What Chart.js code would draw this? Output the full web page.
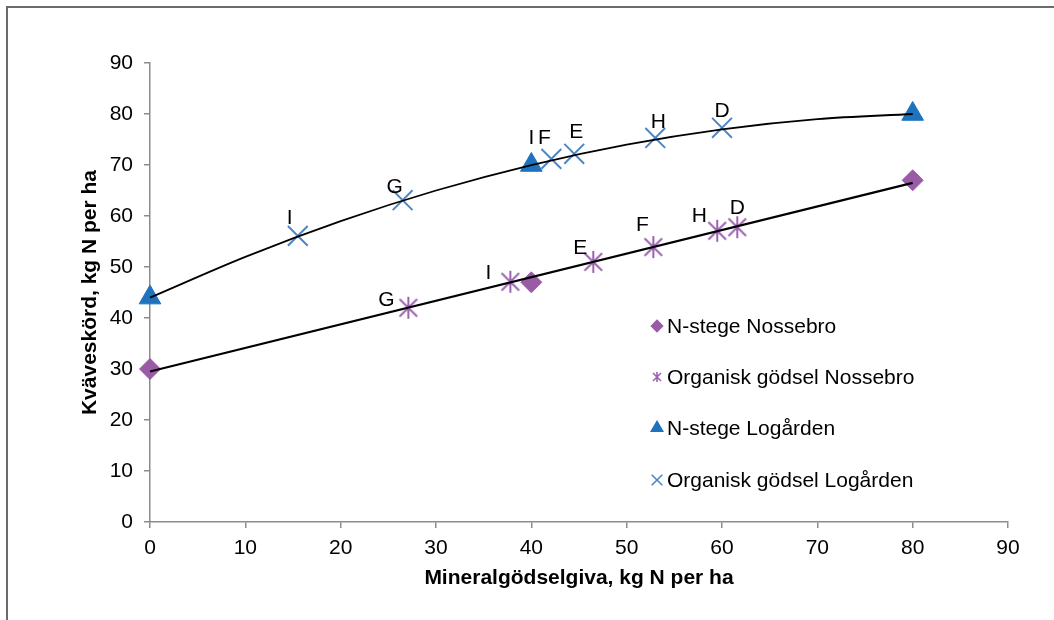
<!DOCTYPE html>
<html>
<head>
<meta charset="utf-8">
<script src="https://cdn.jsdelivr.net/npm/chart.js"></script>
<style>
  body { margin: 0; background: #fff; }
  #wrap { position: relative; width: 1054px; height: 620px; overflow: hidden; }
  #frame { position: absolute; left: 6px; top: 6px; width: 1200px; height: 800px;
           border-top: 2px solid #6b6b6b; border-left: 2px solid #6b6b6b; }
  canvas { position: absolute; left: 0; top: 0; }
</style>
</head>
<body>
<div id="wrap">
  <div id="frame"></div>
  <canvas id="kvave" width="1054" height="620"></canvas>
</div>
<script>
// N-stege (mineral fertiliser steps)
const nstegeX = [0, 40, 80];
const nossebroY = [30, 47, 67];
const logardenY = [44, 70, 80];
const logardenNstegeLabels = ['', 'I', ''];

// organic fertiliser, Nossebro
const orgNossebroX = [27.1, 37.8, 46.5, 52.8, 59.5, 61.6];
const orgNossebroY = [42.0, 47.1, 51.0, 53.9, 57.1, 57.8];
const orgNossebroLabels = ['G', 'I', 'E', 'F', 'H', 'D'];

// organic fertiliser, Logården
const orgLogardenX = [15.5, 26.5, 42.1, 44.5, 53.0, 60.0];
const orgLogardenY = [56.1, 63.1, 71.2, 72.2, 75.3, 77.3];
const orgLogardenLabels = ['I', 'G', 'F', 'E', 'H', 'D'];

// trend lines
const trendNossebroX = [0, 80];
const trendNossebroY = [29.5, 66.5];
const trendLogardenX = [0, 10, 20, 30, 40, 50, 60, 70, 80];
const trendLogardenY = [44, 52, 59, 65, 70, 74, 77, 79, 80];

const legendNames = ['N-stege Nossebro', 'Organisk gödsel Nossebro', 'N-stege Logården', 'Organisk gödsel Logården'];

// label offsets (px) relative to marker centre
const offNossebro = [[-22, -8], [-22, -9], [-13, -14], [-11, -22], [-18, -15], [0, -19]];
const offLogarden = [[-8, -18], [-8, -13], [-7, -21], [2, -22], [3, -16], [0, -17]];
const offLogNstege = [[0, 0], [0, -27], [0, 0]];

const FONT = '"Liberation Sans", Arial, sans-serif';
const PURPLE = '#9a5ba6';
const PURPLE2 = '#9d62b0';
const BLUE = '#1f72be';
const BLUE2 = '#4d86c6';

function pts(xs, ys) { return xs.map((x, i) => ({ x: x, y: ys[i] })); }

function asterisk(size, color, lw) {
  const c = document.createElement('canvas');
  c.width = c.height = size;
  const g = c.getContext('2d');
  const h = size / 2, r = h - 1, d = r * 0.8;
  g.strokeStyle = color; g.lineWidth = lw;
  g.beginPath();
  g.moveTo(h, h - r); g.lineTo(h, h + r);
  g.moveTo(h - d, h - d); g.lineTo(h + d, h + d);
  g.moveTo(h + d, h - d); g.lineTo(h - d, h + d);
  g.stroke();
  return c;
}
const starBig = asterisk(24, PURPLE2, 2);
const starSmall = asterisk(12, PURPLE2, 1.6);

const labelPlugin = {
  id: 'pointLabels',
  afterDatasetsDraw(chart) {
    const ctx = chart.ctx;
    ctx.save();
    ctx.font = '21px ' + FONT;
    ctx.fillStyle = '#000';
    ctx.textAlign = 'center';
    ctx.textBaseline = 'middle';
    chart.data.datasets.forEach((ds, i) => {
      if (!ds.pointLabels) return;
      const meta = chart.getDatasetMeta(i);
      ds.pointLabels.forEach((txt, j) => {
        if (!txt) return;
        const el = meta.data[j];
        const o = ds.labelOffsets[j];
        ctx.fillText(txt, el.x + o[0], el.y + o[1]);
      });
    });
    ctx.restore();
  }
};

const legendPlugin = {
  id: 'sideLegend',
  afterDraw(chart) {
    const ctx = chart.ctx;
    const rows = [326, 377, 428, 480];
    const marks = [
      { pointStyle: 'rectRot', radius: 5.5, color: PURPLE },
      { pointStyle: starSmall, radius: 6, color: PURPLE2 },
      { pointStyle: 'triangle', radius: 6.5, color: BLUE },
      { pointStyle: 'crossRot', radius: 7.5, color: BLUE2 }
    ];
    ctx.save();
    ctx.font = '21px ' + FONT;
    ctx.textAlign = 'left';
    ctx.textBaseline = 'middle';
    legendNames.forEach((name, i) => {
      const m = marks[i];
      ctx.fillStyle = m.color;
      ctx.strokeStyle = m.color;
      ctx.lineWidth = 1.6;
      Chart.helpers.drawPoint(ctx, { pointStyle: m.pointStyle, radius: m.radius, rotation: 0, borderWidth: 1.6 }, 657, rows[i]);
      ctx.fillStyle = '#000';
      ctx.fillText(name, 667, rows[i] + 1);
    });
    ctx.restore();
  }
};

new Chart(document.getElementById('kvave'), {
  type: 'scatter',
  data: {
    datasets: [
      {
        label: 'trend Nossebro', data: pts(trendNossebroX, trendNossebroY),
        showLine: true, borderColor: '#000', borderWidth: 2.2, pointRadius: 0, order: 0, clip: false
      },
      {
        label: 'trend Logården', data: pts(trendLogardenX, trendLogardenY),
        showLine: true, borderColor: '#000', borderWidth: 1.8, pointRadius: 0,
        cubicInterpolationMode: 'monotone', order: 0, clip: false
      },
      {
        label: legendNames[0], data: pts(nstegeX, nossebroY),
        pointStyle: 'rectRot', pointRadius: 10.5, backgroundColor: PURPLE, borderColor: PURPLE,
        borderWidth: 1, order: 4, clip: false
      },
      {
        label: legendNames[1], data: pts(orgNossebroX, orgNossebroY),
        pointStyle: starBig, pointRadius: 12, order: 3, clip: false,
        pointLabels: orgNossebroLabels, labelOffsets: offNossebro
      },
      {
        label: legendNames[2], data: pts(nstegeX, logardenY),
        pointStyle: 'triangle', pointRadius: 12.5, backgroundColor: BLUE, borderColor: BLUE,
        borderWidth: 1, order: 2, clip: false,
        pointLabels: logardenNstegeLabels, labelOffsets: offLogNstege
      },
      {
        label: legendNames[3], data: pts(orgLogardenX, orgLogardenY),
        pointStyle: 'crossRot', pointRadius: 14, borderColor: BLUE2, borderWidth: 2,
        order: 1, clip: false,
        pointLabels: orgLogardenLabels, labelOffsets: offLogarden
      }
    ]
  },
  options: {
    responsive: false,
    animation: false,
    layout: { padding: { top: 63, right: 46, left: 0, bottom: 0 } },
    plugins: { legend: { display: false }, tooltip: { enabled: false } },
    scales: {
      x: {
        type: 'linear', min: 0, max: 90,
        ticks: { stepSize: 10, color: '#000', padding: 8, font: { family: FONT, size: 21 } },
        grid: { display: true, drawOnChartArea: false, tickLength: 6, color: '#8c8c8c', lineWidth: 1.5 },
        border: { display: true, color: '#8c8c8c', width: 1.5 },
        title: { display: true, text: 'Mineralgödselgiva, kg N per ha', color: '#000',
                 font: { family: FONT, size: 21, weight: 'bold' }, padding: { top: 0, bottom: 29 } },
        afterFit(scale) { scale.height = 98; }
      },
      y: {
        type: 'linear', min: 0, max: 90,
        ticks: { stepSize: 10, color: '#000', padding: 11, font: { family: FONT, size: 21 } },
        grid: { display: true, drawOnChartArea: false, tickLength: 6, color: '#8c8c8c', lineWidth: 1.5 },
        border: { display: true, color: '#8c8c8c', width: 1.5 },
        title: { display: true, text: 'Kväveskörd, kg N per ha', color: '#000',
                 font: { family: FONT, size: 21, weight: 'bold' }, padding: { top: 78, bottom: 0 } },
        afterFit(scale) { scale.width = 150; }
      }
    }
  },
  plugins: [labelPlugin, legendPlugin]
});
</script>
</body>
</html>
